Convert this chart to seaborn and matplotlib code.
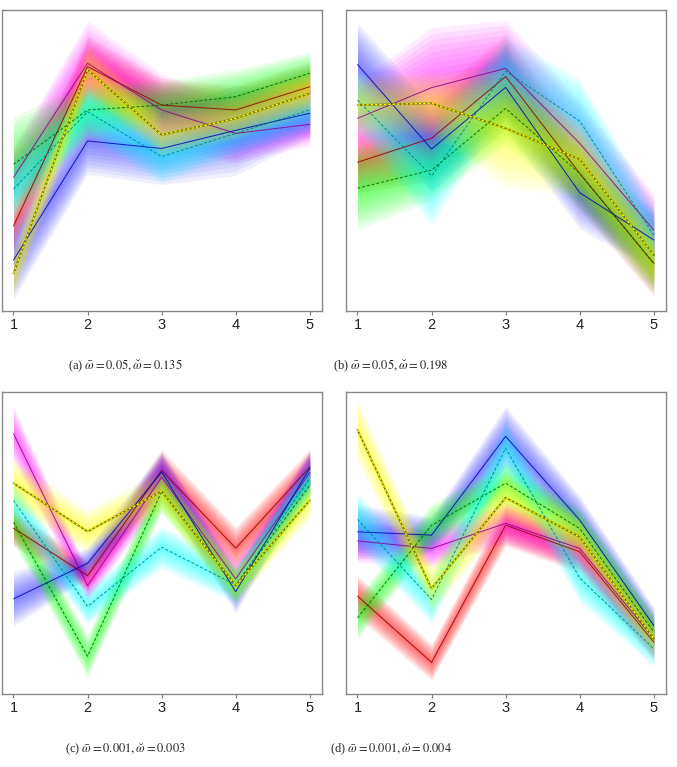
import numpy as np
import matplotlib
matplotlib.use("Agg")
import matplotlib.pyplot as plt
import seaborn as sns

sns.set_style("white")
plt.rcParams["font.family"] = ["Liberation Sans", "DejaVu Sans"]
plt.rcParams["mathtext.fontset"] = "stix"

# -------------------------------
# Data (arbitrary y units 0..100)
# -------------------------------
steps = [1, 2, 3, 4, 5]
series = ["red", "magenta", "blue", "green", "cyan", "yellow"]

band_colors = {"red": "#ff0000", "magenta": "#ff00ff", "blue": "#2a2aff",
               "green": "#00ff00", "cyan": "#00ffff", "yellow": "#ffff00"}
line_colors = {"red": "#8b0000", "magenta": "#8b008b", "blue": "#0000b0",
               "green": "#005a00", "cyan": "#007a7a", "yellow": "#6b6b00"}
line_styles = {"red": "-", "magenta": "-", "blue": "-",
               "green": (0, (3, 2)), "cyan": (0, (3, 2)), "yellow": "-"}

# order follows `series`
mean_a = [[28.2, 81.2, 68.4, 66.8, 74.5],
          [44.4, 82.3, 66.8, 59.0, 62.0],
          [16.9, 56.5, 54.0, 60.0, 65.7],
          [48.7, 66.8, 68.4, 71.2, 79.0],
          [40.5, 66.2, 51.3, 59.0, 66.8],
          [12.5, 80.1, 58.5, 64.0, 72.3]]
spread_a = [[8, 10, 9, 8, 8],
            [10, 14, 12, 10, 7],
            [13, 11, 12, 15, 8],
            [16, 9, 8, 9, 7],
            [10, 8, 9, 7, 7],
            [8, 8, 7, 7, 7]]

mean_b = [[49.4, 57.4, 77.9, 45.7, 15.8],
          [64.0, 74.2, 80.6, 55.7, 26.9],
          [81.9, 53.8, 74.3, 39.3, 23.6],
          [40.8, 46.8, 67.3, 45.7, 15.8],
          [70.1, 44.9, 79.7, 63.1, 25.2],
          [68.4, 69.0, 60.7, 50.4, 18.6]]
spread_b = [[10, 14, 14, 12, 11],
            [12, 20, 16, 14, 12],
            [14, 14, 14, 12, 10],
            [14, 10, 12, 12, 10],
            [10, 17, 12, 14, 10],
            [10, 10, 20, 12, 10]]

mean_c = [[54.9, 39.2, 74.0, 48.3, 75.1],
          [86.2, 35.9, 71.8, 38.1, 73.3],
          [31.5, 43.3, 73.5, 33.9, 74.8],
          [56.9, 12.5, 67.1, 36.1, 69.1],
          [64.1, 29.0, 48.6, 36.1, 71.3],
          [69.8, 53.8, 67.1, 35.9, 64.1]]
spread_c = [[6, 5, 7, 7, 6],
            [9, 5, 8, 6, 7],
            [9, 5, 7, 7, 6],
            [7, 7, 7, 6, 6],
            [7, 6, 7, 6, 6],
            [8, 7, 7, 6, 6]]

mean_d = [[32.4, 10.5, 55.9, 47.1, 17.2],
          [50.7, 48.2, 56.5, 48.2, 18.3],
          [53.7, 52.6, 85.3, 57.6, 22.7],
          [25.2, 55.9, 69.8, 54.8, 20.5],
          [57.8, 31.3, 81.4, 38.4, 15.0],
          [87.5, 34.9, 65.0, 52.0, 18.3]]
spread_d = [[7, 6, 7, 7, 6],
            [7, 6, 7, 7, 6],
            [9, 6, 10, 8, 6],
            [7, 7, 7, 7, 6],
            [9, 8, 9, 8, 6],
            [10, 8, 8, 7, 6]]

captions = [r"(a) $\bar{\omega} = 0.05, \breve{\omega} = 0.135$",
            r"(b) $\bar{\omega} = 0.05, \breve{\omega} = 0.198$",
            r"(c) $\bar{\omega} = 0.001, \breve{\omega} = 0.003$",
            r"(d) $\bar{\omega} = 0.001, \breve{\omega} = 0.004$"]

panels = [(mean_a, spread_a), (mean_b, spread_b), (mean_c, spread_c), (mean_d, spread_d)]

# -------------------------------
# Figure
# -------------------------------
W, H = 677, 767
fig = plt.figure(figsize=(W / 100, H / 100), dpi=100)

boxes = [(2, 10, 320, 301), (346, 10, 320, 301),
         (2, 392, 320, 302), (346, 392, 320, 302)]
caption_pos = [(125, 366), (391, 366), (125, 749), (391, 749)]

layers = np.linspace(1.0, 0.1, 10)

for (means, spreads), (x0, y0, w, h), cap, (cx, cy) in zip(panels, boxes, captions, caption_pos):
    ax = fig.add_axes([x0 / W, 1 - (y0 + h) / H, w / W, h / H])

    # nested bands
    for name, m, s in zip(series, means, spreads):
        m = np.array(m)
        s = np.array(s)
        for f in layers:
            ax.fill_between(steps, m - s * f, m + s * f, color=band_colors[name],
                            alpha=0.075, lw=0)

    # mean lines
    for name, m in zip(series, means):
        if name == "yellow":
            sns.lineplot(x=steps, y=m, ax=ax, color=line_colors[name], lw=1.3, alpha=0.9)
            sns.lineplot(x=steps, y=m, ax=ax, color="#ffff00", lw=0.9,
                         linestyle=(0, (2, 1.5)))
        else:
            sns.lineplot(x=steps, y=m, ax=ax, color=line_colors[name], lw=0.7,
                         alpha=0.85, linestyle=line_styles[name])

    ax.set_xlim(0.845, 5.165)
    ax.set_ylim(0, 100)
    ax.set_xticks(steps)
    ax.set_yticks([])
    ax.set_xlabel("")
    ax.set_ylabel("")
    ax.tick_params(axis="x", length=3, width=0.8, color="#777777",
                   labelsize=10.5, pad=2, labelcolor="#222222", bottom=True)
    for sp in ax.spines.values():
        sp.set_color("#888888")
        sp.set_linewidth(1.0)

    fig.text(cx / W, 1 - cy / H, cap, ha="center", va="center",
             fontsize=9, family="Liberation Serif")

fig.savefig("out.png", dpi=100)
